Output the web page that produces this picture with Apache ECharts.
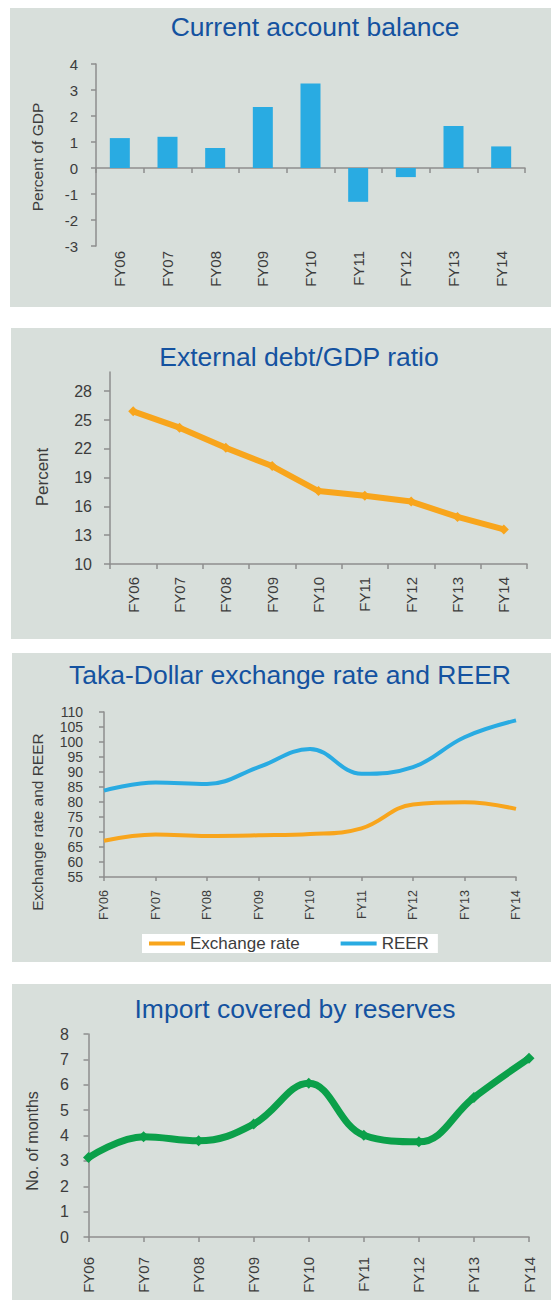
<!DOCTYPE html>
<html>
<head>
<meta charset="utf-8">
<title>External sector indicators</title>
<script src="https://cdn.jsdelivr.net/npm/echarts@6/dist/echarts.min.js"></script>
<style>
  html, body { margin: 0; padding: 0; background: #ffffff; }
  #chart { width: 551px; height: 1300px; }
</style>
</head>
<body>
<div id="chart"></div>
<script>
// Fiscal years shared by all four panels
const categories = ['FY06', 'FY07', 'FY08', 'FY09', 'FY10', 'FY11', 'FY12', 'FY13', 'FY14'];

// Current account balance, percent of GDP
const currentAccount = [1.15, 1.2, 0.77, 2.35, 3.25, -1.3, -0.35, 1.62, 0.83];

// External debt to GDP, percent
const externalDebt = [25.9, 24.2, 22.1, 20.2, 17.6, 17.1, 16.5, 14.9, 13.6];
const debtTicks = [10, 13, 16, 19, 22, 25, 28];

// Taka-Dollar exchange rate and real effective exchange rate
const exchangeRate = [67.1, 69.2, 68.7, 68.9, 69.3, 71.2, 79.2, 79.9, 77.7];
const reer = [83.8, 86.5, 86.0, 91.6, 97.7, 89.4, 91.6, 101.6, 107.2];

// Months of imports covered by reserves
const importCover = [3.13, 3.95, 3.79, 4.45, 6.06, 4.01, 3.75, 5.5, 7.04];

const FONT = "'Liberation Sans', Arial, sans-serif";
const TEXT = '#3c3c3c';
const AXIS = '#8e8e8e';
const PANEL = '#d8dfdb';
const TITLE = '#1452a0';
const BLUE = '#29abe2';
const ORANGE = '#f8a51c';
const GREEN = '#0ba04a';

const chart = echarts.init(document.getElementById('chart'), null, { renderer: 'svg' });

function panelRect(x, y, w, h) {
  return { type: 'rect', z: -10, silent: true, shape: { x: x, y: y, width: w, height: h }, style: { fill: PANEL } };
}
function axisTitle(text, x, y, size) {
  return {
    type: 'text', x: x, y: y, rotation: Math.PI / 2, silent: true,
    style: { text: text, fill: TEXT, font: size + 'px ' + FONT, textAlign: 'center', textVerticalAlign: 'middle' }
  };
}
function panelTitle(text, cx, top) {
  return {
    text: text, left: cx, top: top, textAlign: 'center', padding: 0,
    textStyle: { color: TITLE, fontFamily: FONT, fontSize: 26.5, fontWeight: 'normal' }
  };
}
function catLabels(size, margin) {
  return { show: true, rotate: 90, color: TEXT, fontFamily: FONT, fontSize: size, margin: margin };
}
function valueAxis(grid, min, max, interval, size, margin, extra) {
  return Object.assign({
    type: 'value', gridIndex: grid, min: min, max: max, interval: interval,
    splitLine: { show: false },
    axisLine: { show: true, lineStyle: { color: AXIS, width: 1.5 } },
    axisTick: { show: true, length: 5, lineStyle: { color: AXIS, width: 1.5 } },
    axisLabel: { color: TEXT, fontFamily: FONT, fontSize: size, margin: margin }
  }, extra || {});
}

const option = {
  animation: false,
  backgroundColor: '#ffffff',
  title: [
    panelTitle('Current account balance', 315, 13),
    panelTitle('External debt/GDP ratio', 299, 343),
    panelTitle('Taka-Dollar exchange rate and REER', 290, 661),
    panelTitle('Import covered by reserves', 295, 995)
  ],
  graphic: [
    panelRect(10, 8, 541, 299),
    panelRect(11, 328, 540, 311),
    panelRect(12, 653, 539, 309),
    panelRect(12, 984, 539, 316),
    axisTitle('Percent of GDP', 37, 157, 15.5),
    axisTitle('Percent', 42, 477, 17),
    axisTitle('Exchange rate and REER', 37, 822, 15.5),
    axisTitle('No. of months', 32, 1141, 16)
  ],
  legend: {
    data: ['Exchange rate', 'REER'],
    left: 142, top: 934,
    backgroundColor: '#ffffff',
    padding: [1, 9, 1, 7],
    itemWidth: 36, itemHeight: 4, itemGap: 41,
    icon: 'rect',
    textStyle: { color: TEXT, fontFamily: FONT, fontSize: 17 }
  },
  grid: [
    { left: 96, top: 64, width: 429, height: 182 },
    { left: 110, top: 372, width: 417, height: 192 },
    { left: 104, top: 712, width: 412, height: 165 },
    { left: 88.5, top: 1034, width: 440.5, height: 203 }
  ],
  xAxis: [
    { // zero line with category separators
      type: 'category', gridIndex: 0, data: categories,
      axisLine: { onZero: true, lineStyle: { color: AXIS, width: 1.5 } },
      axisTick: { show: true, length: 5, lineStyle: { color: AXIS, width: 1.5 } },
      axisLabel: { show: false }
    },
    { // category labels kept at the bottom of the plot
      type: 'category', gridIndex: 0, data: categories, position: 'bottom',
      axisLine: { show: false, onZero: false },
      axisTick: { show: false },
      axisLabel: catLabels(15, 5)
    },
    {
      type: 'category', gridIndex: 1, data: categories,
      axisLine: { lineStyle: { color: AXIS, width: 1.5 } },
      axisTick: { show: true, length: 5, lineStyle: { color: AXIS, width: 1.5 } },
      axisLabel: catLabels(15, 13)
    },
    {
      type: 'category', gridIndex: 2, data: categories, boundaryGap: false,
      axisLine: { lineStyle: { color: AXIS, width: 1.5 } },
      axisTick: { show: true, length: 4, lineStyle: { color: AXIS, width: 1.5 } },
      axisLabel: catLabels(12.5, 13)
    },
    {
      type: 'category', gridIndex: 3, data: categories, boundaryGap: false,
      axisLine: { lineStyle: { color: AXIS, width: 1.5 } },
      axisTick: { show: true, length: 5, lineStyle: { color: AXIS, width: 1.5 } },
      axisLabel: catLabels(15, 20)
    }
  ],
  yAxis: [
    valueAxis(0, -3, 4, 1, 15, 18),
    valueAxis(1, 10, 30, 2, 16, 18, {
      axisTick: { show: true, length: 6, customValues: debtTicks, lineStyle: { color: AXIS, width: 1.5 } },
      axisLabel: { color: TEXT, fontFamily: FONT, fontSize: 16, margin: 18, customValues: debtTicks }
    }),
    valueAxis(2, 55, 110, 5, 14, 21),
    valueAxis(3, 0, 8, 1, 16, 19.5)
  ],
  series: [
    {
      name: 'Current account balance', type: 'bar', xAxisIndex: 0, yAxisIndex: 0,
      data: currentAccount, barWidth: 20, itemStyle: { color: BLUE }
    },
    {
      name: 'External debt/GDP', type: 'line', xAxisIndex: 2, yAxisIndex: 1,
      data: externalDebt, symbol: 'diamond', symbolSize: 10,
      lineStyle: { color: ORANGE, width: 6 }, itemStyle: { color: ORANGE }
    },
    {
      name: 'Exchange rate', type: 'line', xAxisIndex: 3, yAxisIndex: 2,
      data: exchangeRate, smooth: 0.4, symbol: 'none',
      lineStyle: { color: ORANGE, width: 4 }, itemStyle: { color: ORANGE }
    },
    {
      name: 'REER', type: 'line', xAxisIndex: 3, yAxisIndex: 2,
      data: reer, smooth: 0.4, symbol: 'none',
      lineStyle: { color: BLUE, width: 4 }, itemStyle: { color: BLUE }
    },
    {
      name: 'Import cover', type: 'line', xAxisIndex: 4, yAxisIndex: 3,
      data: importCover, smooth: 0.4, symbol: 'diamond', symbolSize: 11,
      lineStyle: { color: GREEN, width: 7 }, itemStyle: { color: GREEN }
    }
  ]
};

chart.setOption(option);
</script>
</body>
</html>
